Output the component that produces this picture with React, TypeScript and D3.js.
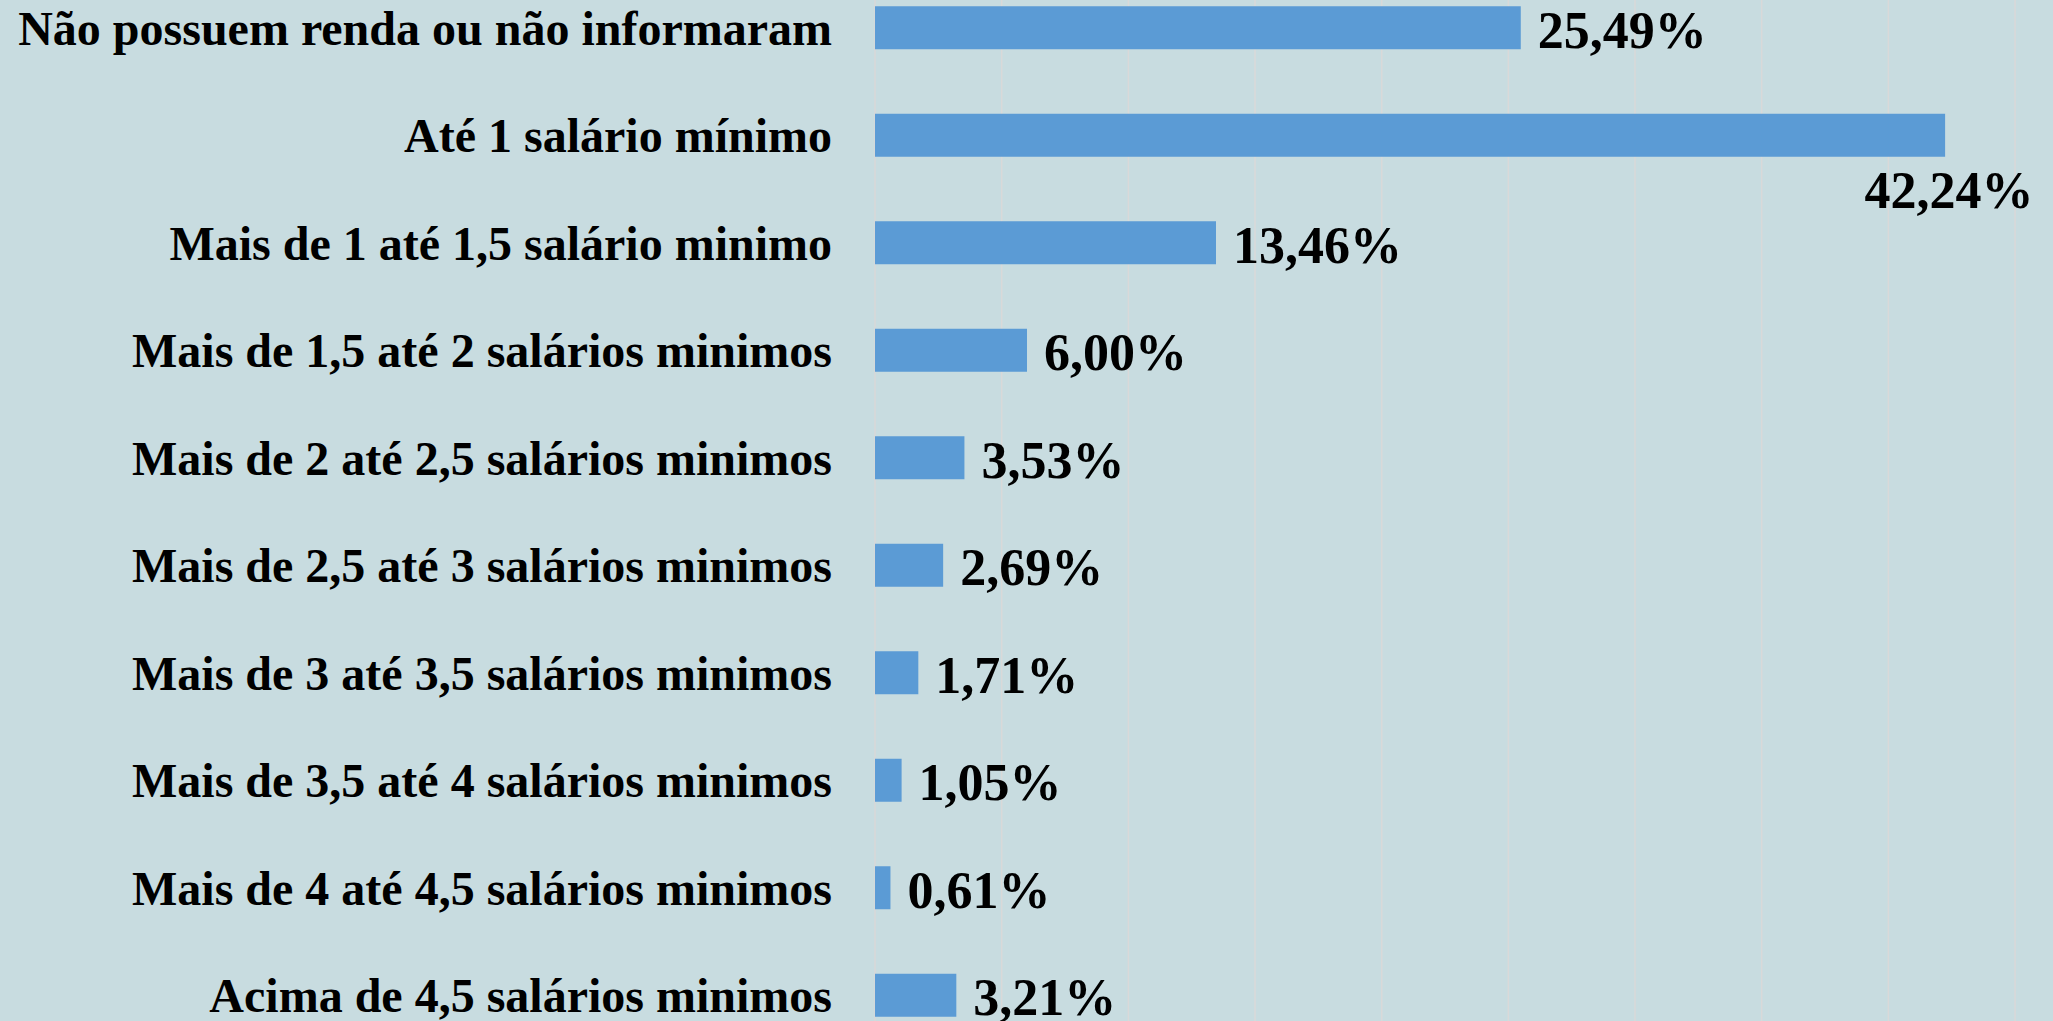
import React from "react";
import * as d3 from "d3";

const categories: string[] = [
  "Não possuem renda ou não informaram",
  "Até 1 salário mínimo",
  "Mais de 1 até 1,5 salário minimo",
  "Mais de 1,5 até 2 salários minimos",
  "Mais de 2 até 2,5 salários minimos",
  "Mais de 2,5 até 3 salários minimos",
  "Mais de 3 até 3,5 salários minimos",
  "Mais de 3,5 até 4 salários minimos",
  "Mais de 4 até 4,5 salários minimos",
  "Acima de 4,5 salários minimos",
];
const values: number[] = [25.49, 42.24, 13.46, 6.0, 3.53, 2.69, 1.71, 1.05, 0.61, 3.21];
const gridTicks: number[] = [0, 5, 10, 15, 20, 25, 30, 35, 40, 45, 50];

const W = 2053;
const H = 1021;

if (typeof document !== "undefined") {
  document.body.style.margin = "0";
}

const fmt = (v: number) => v.toFixed(2).replace(".", ",") + "%";

export default function App() {
  const x = d3.scaleLinear().domain([0, 50]).range([875, 875 + 1266.7]);
  const y = d3
    .scaleBand<string>()
    .domain(categories)
    .range([-26, -26 + 107.5 * categories.length])
    .paddingInner(0.6)
    .paddingOuter(0.3);
  const bw = y.bandwidth();
  const font = "'Liberation Serif', 'Times New Roman', serif";
  const valFs = 52;
  const catFs = 48;

  return (
    <svg width={W} height={H} style={{ display: "block" }}>
      <rect x={0} y={0} width={W} height={H} fill="#C8DCE0" />
      {gridTicks.map((t) => (
        <line
          key={t}
          x1={x(t)}
          x2={x(t)}
          y1={0}
          y2={H}
          stroke="#D9D9D9"
          strokeWidth={1.5}
        />
      ))}
      {categories.map((c, i) => {
        const v = values[i];
        const y0 = y(c) as number;
        const cy = y0 + bw / 2;
        const xe = x(v);
        const labelW = fmt(v).length * 0.54 * valFs;
        const overflow = xe + 17 + labelW > W;
        return (
          <g key={c}>
            <rect x={x(0)} y={y0} width={xe - x(0)} height={bw} fill="#5B9BD5" />
            <text
              x={832}
              y={cy}
              dy="0.35em"
              textAnchor="end"
              fontFamily={font}
              fontWeight="bold"
              fontSize={catFs}
              fill="#000"
            >
              {c}
            </text>
            {overflow ? (
              <text
                x={xe + 4}
                y={y0 + bw + 51}
                textAnchor="middle"
                fontFamily={font}
                fontWeight="bold"
                fontSize={valFs}
                fill="#000"
              >
                {fmt(v)}
              </text>
            ) : (
              <text
                x={xe + 17}
                y={cy}
                dy="0.38em"
                textAnchor="start"
                fontFamily={font}
                fontWeight="bold"
                fontSize={valFs}
                fill="#000"
              >
                {fmt(v)}
              </text>
            )}
          </g>
        );
      })}
    </svg>
  );
}
